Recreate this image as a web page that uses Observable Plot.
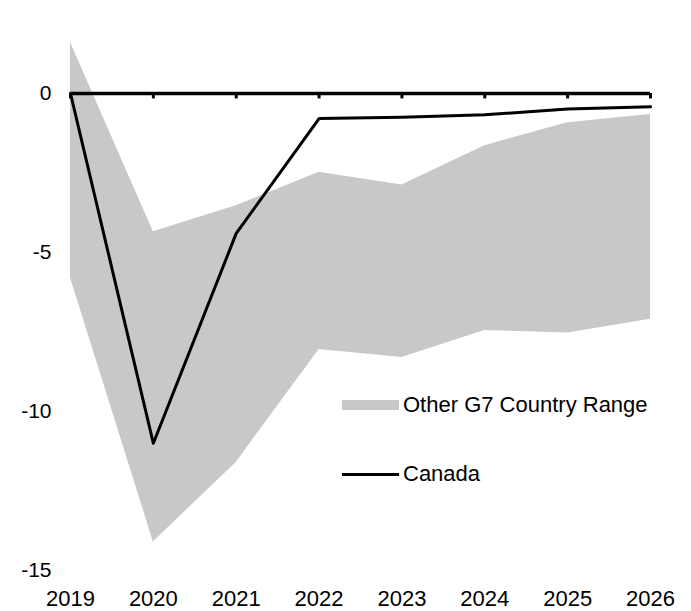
<!DOCTYPE html>
<html>
<head>
<meta charset="utf-8">
<script src="https://cdn.jsdelivr.net/npm/d3@7"></script>
<script src="https://cdn.jsdelivr.net/npm/@observablehq/plot@0.6"></script>
<style>
  body { margin: 0; background: #fff; }
  #wrap { position: relative; width: 691px; height: 611px; font-family: "Liberation Sans", Arial, sans-serif; }
  .leg { position: absolute; display: flex; align-items: center; font-size: 22px; color: #000; white-space: nowrap; }
  .sw-area { width: 57px; height: 10px; background: #c8c8c8; margin-right: 4px; }
  .sw-line { width: 57px; height: 3px; background: #000; margin-right: 4px; }
</style>
</head>
<body>
<div id="wrap"></div>
<script>
const years = [2019, 2020, 2021, 2022, 2023, 2024, 2025, 2026];
const rangeHigh = [1.6, -4.35, -3.53, -2.48, -2.88, -1.64, -0.92, -0.66];
const rangeLow = [-5.8, -14.1, -11.6, -8.05, -8.3, -7.45, -7.53, -7.1];
const canada = [0, -11.0, -4.4, -0.79, -0.75, -0.67, -0.49, -0.42];
const yTicks = [0, -5, -10, -15];
const legendLabels = ["Other G7 Country Range", "Canada"];

const rows = years.map((y, i) => ({year: y, hi: rangeHigh[i], lo: rangeLow[i], ca: canada[i]}));

const chart = Plot.plot({
  width: 691,
  height: 611,
  marginLeft: 70,
  marginRight: 41,
  marginTop: 93,
  marginBottom: 41,
  style: {fontSize: "22px", fontFamily: "Liberation Sans, Arial, sans-serif", color: "#000", background: "#fff", overflow: "visible"},
  x: {domain: [2019, 2026]},
  y: {domain: [-15, 0]},
  marks: [
    Plot.areaY(rows, {x: "year", y1: "lo", y2: "hi", fill: "#c8c8c8"}),
    Plot.ruleY([0], {stroke: "#000", strokeWidth: 3.5}),
    Plot.ruleX(years, {x: d => d, y1: 0, y2: -0.17, stroke: "#000", strokeWidth: 3}),
    Plot.line(rows, {x: "year", y: "ca", stroke: "#000", strokeWidth: 3}),
    Plot.axisX({ticks: years, tickFormat: d => String(d), tickSize: 0, tickPadding: 20, fontSize: 22, label: null}),
    Plot.axisY({ticks: yTicks, tickFormat: d => String(d), tickSize: 0, tickPadding: 19, fontSize: 21, label: null})
  ]
});

const wrap = document.getElementById("wrap");
wrap.appendChild(chart);

const l1 = document.createElement("div");
l1.className = "leg";
l1.style.left = "342px"; l1.style.top = "392px";
l1.innerHTML = `<span class="sw-area"></span><span>${legendLabels[0]}</span>`;
wrap.appendChild(l1);

const l2 = document.createElement("div");
l2.className = "leg";
l2.style.left = "342px"; l2.style.top = "461px";
l2.innerHTML = `<span class="sw-line"></span><span>${legendLabels[1]}</span>`;
wrap.appendChild(l2);
</script>
</body>
</html>
